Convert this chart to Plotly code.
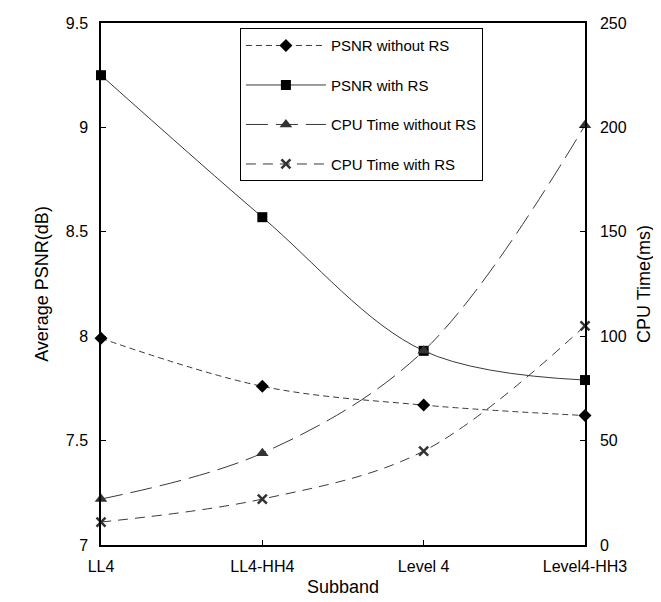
import plotly.graph_objects as go

categories = ["LL4", "LL4-HH4", "Level 4", "Level4-HH3"]
psnr_without_rs = [7.99, 7.76, 7.67, 7.62]
psnr_with_rs = [9.25, 8.57, 7.93, 7.79]
cpu_without_rs = [22, 44, 93, 201]
cpu_with_rs = [11, 22, 45, 105]

LINE = "#3a3a3a"
FONT = "Liberation Sans, Arial, sans-serif"

fig = go.Figure()
fig.add_trace(go.Scatter(
    x=categories, y=psnr_without_rs, name="PSNR without RS", legendgroup="a",
    mode="lines+markers", line=dict(color=LINE, width=1, dash="6px,4px", shape="spline"),
    marker=dict(symbol="diamond", size=10, color="black"), cliponaxis=False))
fig.add_trace(go.Scatter(
    x=categories, y=psnr_with_rs, name="PSNR with RS", legendgroup="b",
    mode="lines+markers", line=dict(color=LINE, width=1, dash="solid", shape="spline"),
    marker=dict(symbol="square", size=10, color="black"), cliponaxis=False))
fig.add_trace(go.Scatter(
    x=categories, y=cpu_without_rs, name="CPU Time without RS", legendgroup="c",
    mode="lines+markers", line=dict(color=LINE, width=1, dash="22px,8px", shape="spline"),
    marker=dict(symbol="triangle-up", size=11, color="#333333"), yaxis="y2", cliponaxis=False))
fig.add_trace(go.Scatter(
    x=categories, y=cpu_with_rs, name="CPU Time with RS", legendgroup="d",
    mode="lines+markers", line=dict(color=LINE, width=1, dash="10px,7px", shape="spline"),
    marker=dict(symbol="x-thin", size=9, color="#333333", line=dict(width=2.5, color="#333333")),
    yaxis="y2", cliponaxis=False))

fig.update_layout(
    width=661, height=602,
    margin=dict(l=93, r=84, t=15, b=65, autoexpand=False),
    paper_bgcolor="white", plot_bgcolor="white",
    font=dict(family=FONT, size=16, color="black"),
    xaxis=dict(
        type="category", categoryorder="array", categoryarray=categories,
        range=[0, 3], showgrid=False, zeroline=False, automargin=False,
        showline=True, linecolor="black", linewidth=1.5, mirror=True,
        ticks="inside", ticklen=5, tickcolor="black",
        tickfont=dict(size=16), ticklabelstandoff=6,
        title=dict(text="Subband", font=dict(size=18), standoff=6),
    ),
    yaxis=dict(
        range=[7, 9.5], dtick=0.5, showgrid=False, zeroline=False, automargin=False,
        showline=True, linecolor="black", linewidth=1.5,
        ticks="inside", ticklen=5, tickcolor="black",
        tickfont=dict(size=16), ticklabelstandoff=8,
        title=dict(text="Average PSNR(dB)", font=dict(size=18), standoff=12),
    ),
    yaxis2=dict(
        range=[0, 250], dtick=50, overlaying="y", side="right",
        showgrid=False, zeroline=False, automargin=False,
        showline=True, linecolor="black", linewidth=1.5,
        ticks="inside", ticklen=5, tickcolor="black",
        tickfont=dict(size=16), ticklabelstandoff=10,
        title=dict(text="CPU Time(ms)", font=dict(size=18), standoff=12),
    ),
    legend=dict(
        x=0.287, y=0.99, xanchor="left", yanchor="top",
        bgcolor="white", bordercolor="black", borderwidth=1,
        font=dict(size=15), tracegroupgap=17, itemwidth=80,
        traceorder="grouped",
    ),
    showlegend=True,
)

fig.write_html("out.html")
